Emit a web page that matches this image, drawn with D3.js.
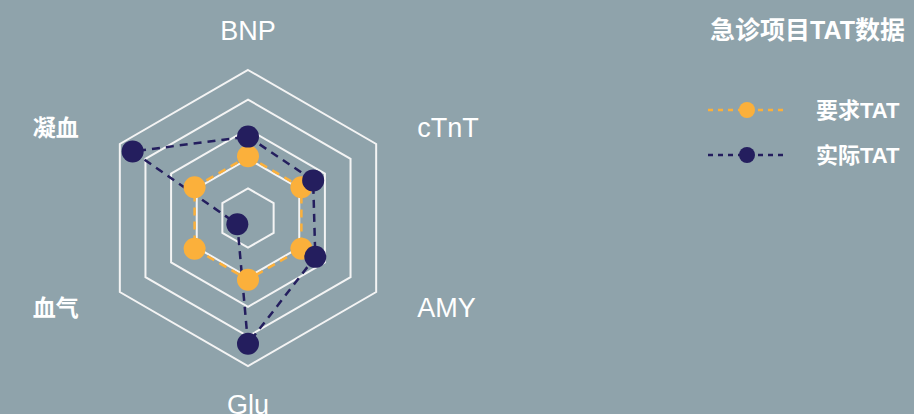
<!DOCTYPE html>
<html>
<head>
<meta charset="utf-8">
<script src="https://cdn.jsdelivr.net/npm/d3@7"></script>
<style>
  html, body { margin: 0; padding: 0; background: #8fa3ab; }
  svg { display: block; }
</style>
</head>
<body>
<div id="chart"></div>
<script>
// radar axes and the two series
const axes = ["BNP", "cTnT", "AMY", "Glu", "血气", "凝血"];
const requiredTAT = [50, 50, 50, 50, 50, 50];
const actualTAT = [66, 61, 63, 102, 10, 108];
const ringLevels = [24, 48, 72, 96, 120];
const seriesNames = ["要求TAT", "实际TAT"];
const chartTitle = "急诊项目TAT数据";

const W = 914, H = 414;
const cx = 248, cy = 218, R = 148;
const orange = "#fbb03b", navy = "#241e5e";
const latinFont = "'Liberation Sans', Arial, sans-serif";
const mixedFont = "'Liberation Sans', 'Noto Sans CJK SC', sans-serif";

const svg = d3.select("#chart").append("svg")
    .attr("width", W)
    .attr("height", H);

const r = d3.scaleLinear().domain([0, d3.max(ringLevels)]).range([0, R]);
const angle = d3.scaleLinear().domain([0, axes.length]).range([-Math.PI / 2, Math.PI * 1.5]);

const pt = (i, v) => [cx + Math.cos(angle(i)) * r(v), cy + Math.sin(angle(i)) * r(v)];

// rings
const ring = d3.line().curve(d3.curveLinearClosed);
svg.append("g").selectAll("path")
    .data(ringLevels)
    .enter()
    .append("path")
    .attr("d", lv => ring(axes.map((a, i) => pt(i, lv))))
    .attr("fill", "none")
    .attr("stroke", "#f4f4f4")
    .attr("stroke-width", 2);

// axis names
const hasCJK = s => /[\u4e00-\u9fff]/.test(s);
svg.append("g").selectAll("text")
    .data(axes)
    .enter()
    .append("text")
    .each(function (d, i) {
        const a = angle(i);
        const c = Math.cos(a), s = Math.sin(a);
        let x, y, anchor;
        if (Math.abs(c) < 0.1) {
            x = cx; y = cy + Math.sign(s) * (R + 39); anchor = "middle";
        } else {
            x = cx + Math.sign(c) * (R * Math.abs(c) + 41);
            y = cy + Math.sign(s) * (R * 0.5 + 16);
            anchor = c > 0 ? "start" : "end";
        }
        d3.select(this)
            .attr("x", x)
            .attr("y", y)
            .attr("text-anchor", anchor)
            .attr("dominant-baseline", "central")
            .attr("font-family", hasCJK(d) ? mixedFont : latinFont)
            .attr("font-size", hasCJK(d) ? 23 : 27)
            .attr("font-weight", hasCJK(d) ? "bold" : "normal")
            .attr("fill", "#ffffff")
            .text(d);
    });

const series = [
    { name: seriesNames[0], values: requiredTAT, color: orange },
    { name: seriesNames[1], values: actualTAT, color: navy }
];

// lines: actual first so the required dots sit above it
[series[1], series[0]].forEach(s => {
    svg.append("path")
        .attr("d", ring(s.values.map((v, i) => pt(i, v))))
        .attr("fill", "none")
        .attr("stroke", s.color)
        .attr("stroke-width", 2.5)
        .attr("stroke-dasharray", "8,6");
});

series.forEach(s => {
    svg.append("g").selectAll("circle")
        .data(s.values)
        .enter()
        .append("circle")
        .attr("cx", (v, i) => pt(i, v)[0])
        .attr("cy", (v, i) => pt(i, v)[1])
        .attr("r", 11)
        .attr("fill", s.color);
});

// title
svg.append("text")
    .attr("x", 905)
    .attr("y", 30)
    .attr("text-anchor", "end")
    .attr("dominant-baseline", "central")
    .attr("font-family", mixedFont)
    .attr("font-size", 25)
    .attr("font-weight", "bold")
    .attr("fill", "#ffffff")
    .text(chartTitle);

// legend
const legend = svg.append("g").selectAll("g")
    .data(series)
    .enter()
    .append("g")
    .attr("transform", (d, i) => `translate(708,${110 + i * 45})`);

legend.append("line")
    .attr("x1", 0).attr("x2", 80)
    .attr("stroke", d => d.color)
    .attr("stroke-width", 2.5)
    .attr("stroke-dasharray", "5,5");

legend.append("circle")
    .attr("cx", 39)
    .attr("r", 8)
    .attr("fill", d => d.color);

legend.append("text")
    .attr("x", 108)
    .attr("dominant-baseline", "central")
    .attr("font-family", mixedFont)
    .attr("font-size", 22)
    .attr("font-weight", "bold")
    .attr("fill", "#ffffff")
    .text(d => d.name);
</script>
</body>
</html>
